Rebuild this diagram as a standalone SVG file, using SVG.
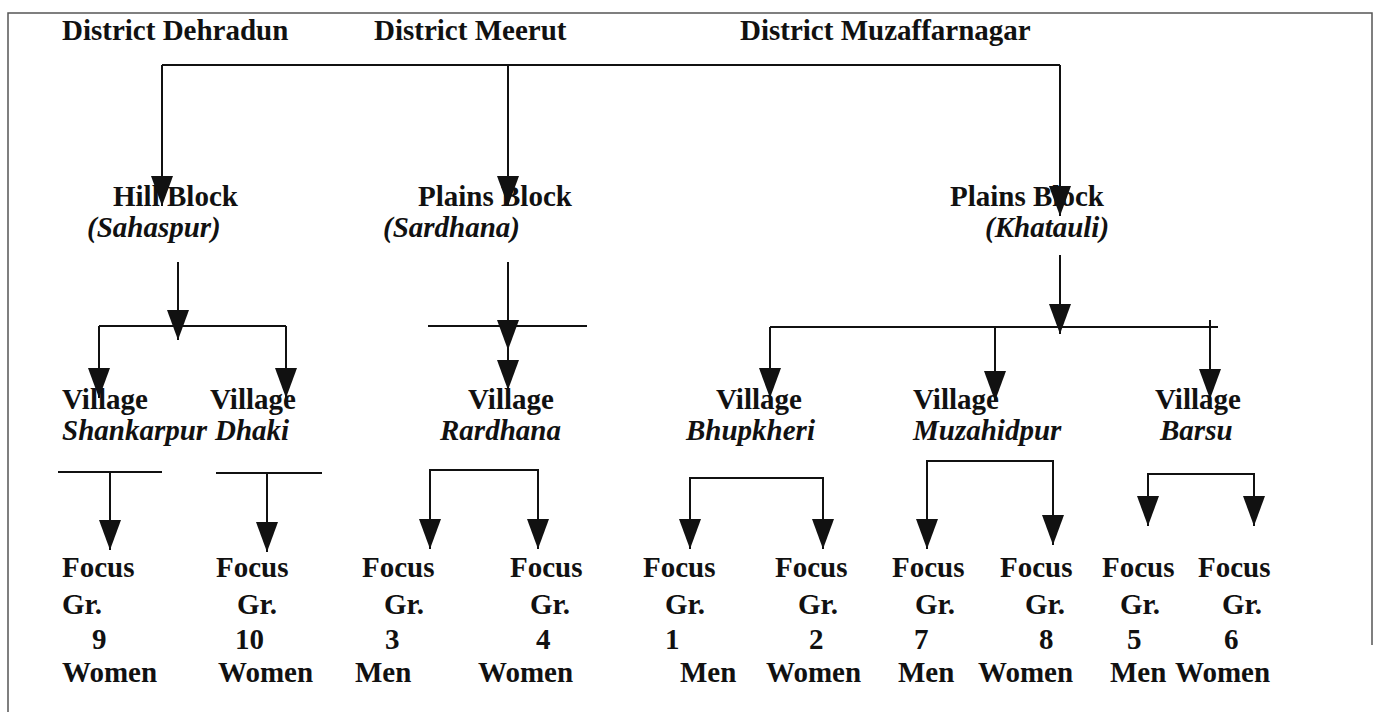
<svg xmlns="http://www.w3.org/2000/svg" width="1374" height="712" viewBox="0 0 1374 712">
  <style>
    text { font-family: "Liberation Serif", "Times New Roman", serif; font-size: 29px; font-weight: bold; fill: #111; }
    .it { font-style: italic; }
    .ln { stroke: #111; stroke-width: 2; fill: none; }
    .frame { stroke: #555; stroke-width: 1.5; fill: none; }
  </style>
  <defs>
    <marker id="arr" viewBox="0 -11 30 22" refX="30" refY="0" markerWidth="30" markerHeight="22" markerUnits="userSpaceOnUse" orient="auto-start-reverse">
      <path d="M0,-11 L30,0 L0,11 Z" fill="#111"/>
    </marker>
  </defs>
  <rect width="1374" height="712" fill="#fff"/>

  <!-- outer frame (left, top, right) -->
  <path class="frame" d="M8,712 L8,13 L1372,13 L1372,645"/>

  <!-- districts -->
  <g id="district-dehradun"><text x="62" y="40">District Dehradun</text></g>
  <g id="district-meerut"><text x="374" y="40">District Meerut</text></g>
  <g id="district-muzaffarnagar"><text x="740" y="40">District Muzaffarnagar</text></g>

  <!-- blocks -->
  <g id="block-sahaspur">
    <text x="113" y="206">Hill Block</text>
    <text class="it" x="87" y="237">(Sahaspur)</text>
  </g>
  <g id="block-sardhana">
    <text x="418" y="206">Plains Block</text>
    <text class="it" x="383" y="237">(Sardhana)</text>
  </g>
  <g id="block-khatauli">
    <text x="950" y="206">Plains Block</text>
    <text class="it" x="985" y="237">(Khatauli)</text>
  </g>

  <!-- villages -->
  <g id="village-shankarpur">
    <text x="62" y="409">Village</text>
    <text class="it" x="62" y="440">Shankarpur</text>
  </g>
  <g id="village-dhaki">
    <text x="210" y="409">Village</text>
    <text class="it" x="215" y="440">Dhaki</text>
  </g>
  <g id="village-rardhana">
    <text x="468" y="409">Village</text>
    <text class="it" x="440" y="440">Rardhana</text>
  </g>
  <g id="village-bhupkheri">
    <text x="716" y="409">Village</text>
    <text class="it" x="686" y="440">Bhupkheri</text>
  </g>
  <g id="village-muzahidpur">
    <text x="913" y="409">Village</text>
    <text class="it" x="913" y="440">Muzahidpur</text>
  </g>
  <g id="village-barsu">
    <text x="1155" y="409">Village</text>
    <text class="it" x="1160" y="440">Barsu</text>
  </g>

  <!-- focus groups -->
  <g id="fg-9">
    <text x="62" y="577">Focus</text><text x="62" y="614">Gr.</text>
    <text x="92" y="649">9</text><text x="62" y="682">Women</text>
  </g>
  <g id="fg-10">
    <text x="216" y="577">Focus</text><text x="237" y="614">Gr.</text>
    <text x="235" y="649">10</text><text x="218" y="682">Women</text>
  </g>
  <g id="fg-3">
    <text x="362" y="577">Focus</text><text x="384" y="614">Gr.</text>
    <text x="385" y="649">3</text><text x="355" y="682">Men</text>
  </g>
  <g id="fg-4">
    <text x="510" y="577">Focus</text><text x="530" y="614">Gr.</text>
    <text x="536" y="649">4</text><text x="478" y="682">Women</text>
  </g>
  <g id="fg-1">
    <text x="643" y="577">Focus</text><text x="665" y="614">Gr.</text>
    <text x="665" y="649">1</text><text x="680" y="682">Men</text>
  </g>
  <g id="fg-2">
    <text x="775" y="577">Focus</text><text x="798" y="614">Gr.</text>
    <text x="809" y="649">2</text><text x="766" y="682">Women</text>
  </g>
  <g id="fg-7">
    <text x="892" y="577">Focus</text><text x="915" y="614">Gr.</text>
    <text x="914" y="649">7</text><text x="898" y="682">Men</text>
  </g>
  <g id="fg-8">
    <text x="1000" y="577">Focus</text><text x="1025" y="614">Gr.</text>
    <text x="1039" y="649">8</text><text x="978" y="682">Women</text>
  </g>
  <g id="fg-5">
    <text x="1102" y="577">Focus</text><text x="1120" y="614">Gr.</text>
    <text x="1127" y="649">5</text><text x="1110" y="682">Men</text>
  </g>
  <g id="fg-6">
    <text x="1198" y="577">Focus</text><text x="1222" y="614">Gr.</text>
    <text x="1224" y="649">6</text><text x="1175" y="682">Women</text>
  </g>

  <!-- connectors -->
  <g id="connectors">
    <!-- districts to blocks -->
    <path class="ln" d="M162,65 L1060,65"/>
    <path class="ln" d="M162,65 L162,206" marker-end="url(#arr)"/>
    <path class="ln" d="M508,65 L508,206" marker-end="url(#arr)"/>
    <path class="ln" d="M1060,65 L1060,216" marker-end="url(#arr)"/>

    <!-- Sahaspur to villages -->
    <path class="ln" d="M178,262 L178,340" marker-end="url(#arr)"/>
    <path class="ln" d="M99,326 L286,326"/>
    <path class="ln" d="M99,326 L99,398" marker-end="url(#arr)"/>
    <path class="ln" d="M286,326 L286,398" marker-end="url(#arr)"/>

    <!-- Sardhana to village -->
    <path class="ln" d="M428,326 L587,326"/>
    <path class="ln" d="M508,262 L508,350" marker-end="url(#arr)"/>
    <path class="ln" d="M508,350 L508,390" marker-end="url(#arr)"/>

    <!-- Khatauli to villages -->
    <path class="ln" d="M1060,255 L1060,334" marker-end="url(#arr)"/>
    <path class="ln" d="M770,327 L1218,327"/>
    <path class="ln" d="M770,327 L770,398" marker-end="url(#arr)"/>
    <path class="ln" d="M995,327 L995,401" marker-end="url(#arr)"/>
    <path class="ln" d="M1210,320 L1210,399" marker-end="url(#arr)"/>

    <!-- villages to focus groups -->
    <path class="ln" d="M58,472 L162,472"/>
    <path class="ln" d="M110,472 L110,550" marker-end="url(#arr)"/>
    <path class="ln" d="M216,473 L322,473"/>
    <path class="ln" d="M267,473 L267,552" marker-end="url(#arr)"/>
    <path class="ln" d="M430,549 L430,470 L538,470 L538,549" marker-start="url(#arr)" marker-end="url(#arr)"/>
    <path class="ln" d="M690,549 L690,478 L823,478 L823,549" marker-start="url(#arr)" marker-end="url(#arr)"/>
    <path class="ln" d="M927,549 L927,461 L1053,461 L1053,545" marker-start="url(#arr)" marker-end="url(#arr)"/>
    <path class="ln" d="M1148,526 L1148,474 L1254,474 L1254,526" marker-start="url(#arr)" marker-end="url(#arr)"/>
  </g>
</svg>
